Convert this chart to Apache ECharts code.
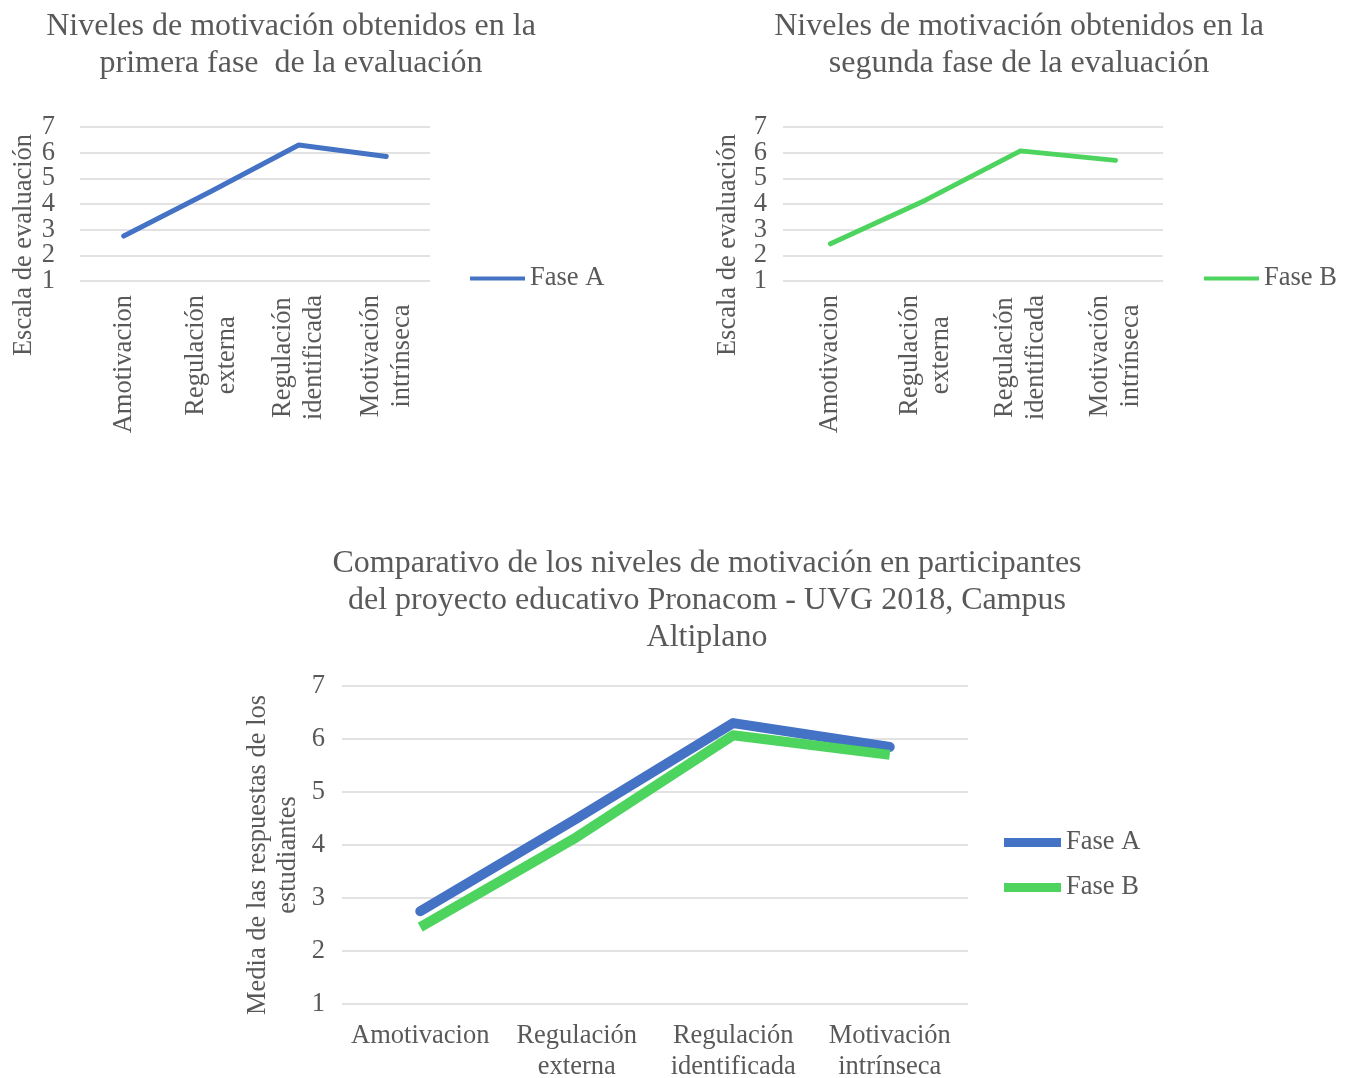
<!DOCTYPE html>
<html><head><meta charset="utf-8">
<script src="https://cdn.jsdelivr.net/npm/echarts@6/dist/echarts.min.js"></script>
<style>html,body{margin:0;padding:0;background:#fff}#c{width:1350px;height:1078px}</style>
</head><body><div id="c"></div>
<script>
const categories = ['Amotivacion', 'Regulación\nexterna', 'Regulación\nidentificada', 'Motivación\nintrínseca'];
const faseA = [2.75, 4.5, 6.3, 5.85];
const faseB = [2.45, 4.15, 6.07, 5.7];
const yTicks = [1, 2, 3, 4, 5, 6, 7];

const FONT = 'Liberation Serif';
const GREY = '#595959';
const BLUE = '#4472C4';
const GREEN = '#4CD45E';
const FS = 26.5;
const TS = 32;

const chart = echarts.init(document.getElementById('c'));

// Two value axes per grid (odd ticks / even ticks) so that ECharts never hides
// neighbouring tick labels that sit closer than the font height.
function yAxes(gridIndex, name, nameGap, namePad, margin, nameLH) {
  const base = {
    gridIndex, type: 'value', min: yTicks[0], max: yTicks[yTicks.length - 1], interval: 1,
    axisLine: { show: false }, axisTick: { show: false }, position: 'left'
  };
  const lbl = { fontFamily: FONT, fontSize: FS, color: GREY, margin };
  return [
    Object.assign({}, base, {
      name, nameLocation: 'middle', nameRotate: 90, nameGap,
      nameTextStyle: { fontFamily: FONT, fontSize: FS, color: GREY, lineHeight: nameLH, padding: namePad },
      splitLine: { lineStyle: { color: '#d9d9d9', width: 1.5 } },
      axisLabel: Object.assign({}, lbl, { showMinLabel: true, showMaxLabel: true,
        formatter: v => (yTicks.indexOf(v) % 2 === 0 ? String(v) : '') })
    }),
    Object.assign({}, base, {
      splitLine: { show: false },
      axisLabel: Object.assign({}, lbl, { showMinLabel: false, showMaxLabel: false,
        formatter: v => (yTicks.indexOf(v) % 2 === 1 ? String(v) : '') })
    })
  ];
}

const rotFmt = v => v.split('\n').map(l => '{c|' + l + '}').join('\n');
const titleStyle = { fontFamily: FONT, fontSize: TS, fontWeight: 'normal', color: GREY, lineHeight: 37 };
const legendText = { fontFamily: FONT, fontSize: FS, color: GREY };

chart.setOption({
  animation: false,
  title: [
    { text: 'Niveles de motivación obtenidos en la\nprimera fase  de la evaluación', left: 286, top: 3, textAlign: 'center', textStyle: titleStyle },
    { text: 'Niveles de motivación obtenidos en la\nsegunda fase de la evaluación', left: 1014, top: 3, textAlign: 'center', textStyle: titleStyle },
    { text: 'Comparativo de los niveles de motivación en participantes\ndel proyecto educativo Pronacom - UVG 2018, Campus\nAltiplano', left: 702, top: 540, textAlign: 'center', textStyle: titleStyle }
  ],
  legend: [
    { data: ['Fase A'], left: 465, top: 260, icon: 'rect', itemWidth: 55, itemHeight: 4, textStyle: legendText },
    { data: ['Fase B'], left: 1199, top: 260, icon: 'rect', itemWidth: 55, itemHeight: 4, textStyle: legendText },
    { data: ['Fase A', 'Fase B'], left: 999, top: 824, orient: 'vertical', icon: 'rect', itemWidth: 57, itemHeight: 9, itemGap: 18, textStyle: legendText }
  ],
  grid: [
    { left: 80, width: 350, top: 127, height: 154, outerBoundsMode: 'none' },
    { left: 783, width: 380, top: 127, height: 154, outerBoundsMode: 'none' },
    { left: 342, width: 626, top: 686, height: 318, outerBoundsMode: 'none' }
  ],
  xAxis: [0, 1].map(i => ({
    gridIndex: i, type: 'category', data: categories, boundaryGap: true,
    axisLine: { show: false }, axisTick: { show: false },
    axisLabel: { rotate: 90, margin: 14, fontFamily: FONT, fontSize: FS, color: GREY, lineHeight: 31, interval: 0,
      formatter: rotFmt, rich: { c: { align: 'center', fontFamily: FONT, fontSize: FS, color: GREY, lineHeight: 31 } } }
  })).concat([{
    gridIndex: 2, type: 'category', data: categories, boundaryGap: true,
    axisLine: { show: false }, axisTick: { show: false },
    axisLabel: { margin: 17, fontFamily: FONT, fontSize: FS, color: GREY, lineHeight: 31, interval: 0 }
  }]),
  yAxis: [].concat(
    yAxes(0, 'Escala de evaluación', 42, [0, 82, 0, 0], 25, null),
    yAxes(1, 'Escala de evaluación', 41, [0, 82, 0, 0], 16, null),
    yAxes(2, 'Media de las respuestas de los\nestudiantes', 39, [0, 20, 0, 0], 17, 30)
  ),
  series: [
    { name: 'Fase A', type: 'line', xAxisIndex: 0, yAxisIndex: 0, data: faseA, showSymbol: false, symbol: 'none',
      lineStyle: { color: BLUE, width: 5, cap: 'round', join: 'round' }, itemStyle: { color: BLUE } },
    { name: 'Fase B', type: 'line', xAxisIndex: 1, yAxisIndex: 2, data: faseB, showSymbol: false, symbol: 'none',
      lineStyle: { color: GREEN, width: 5, cap: 'round', join: 'round' }, itemStyle: { color: GREEN } },
    { name: 'Fase A', type: 'line', xAxisIndex: 2, yAxisIndex: 4, data: faseA, showSymbol: false, symbol: 'none',
      lineStyle: { color: BLUE, width: 10, cap: 'round', join: 'round' }, itemStyle: { color: BLUE } },
    { name: 'Fase B', type: 'line', xAxisIndex: 2, yAxisIndex: 4, data: faseB, showSymbol: false, symbol: 'none',
      lineStyle: { color: GREEN, width: 10, join: 'round' }, itemStyle: { color: GREEN } }
  ]
});
</script></body></html>
